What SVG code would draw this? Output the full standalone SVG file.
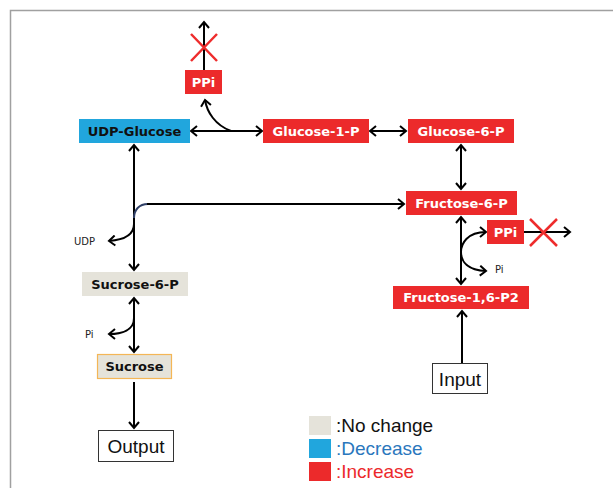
<svg xmlns="http://www.w3.org/2000/svg" width="613" height="488" viewBox="0 0 613 488">
  <defs>
    <style>
      .box-inc { fill: #ec2a2b; }
      .box-dec { fill: #21a6dd; }
      .box-nc { fill: #e5e3da; }
      .lbl { font-family: "DejaVu Sans", Verdana, sans-serif; font-weight: bold; font-size: 13px; text-anchor: middle; }
      .lbl-w { fill: #ffffff; }
      .lbl-k { fill: #111111; }
      .small { font-family: "DejaVu Sans", Verdana, sans-serif; font-size: 10px; fill: #222; }
      .io { font-family: "Liberation Sans", Arial, sans-serif; font-size: 19px; fill: #111; text-anchor: middle; }
      .leg { font-family: "Liberation Sans", Arial, sans-serif; font-size: 19px; }
      .edge { fill: none; stroke: #000; stroke-width: 2; }
      .cross { stroke: #ee2c2c; stroke-width: 2.5; fill: none; }
    </style>
    <marker id="arr" viewBox="-8 -6 10 12" refX="0" refY="0" markerWidth="10" markerHeight="12" markerUnits="userSpaceOnUse" orient="auto-start-reverse">
      <path d="M-6,-5 L0,0 L-6,5" fill="none" stroke="#000" stroke-width="2" stroke-linejoin="miter"/>
    </marker>
  </defs>

  <rect width="613" height="488" fill="#ffffff"/>
  <!-- frame -->
  <path d="M10.5,488 L10.5,10.5 L613,10.5" fill="none" stroke="#a0a0a0" stroke-width="1.5"/>

  <!-- connectors -->
  <g id="connectors">
    <!-- PPi release upward -->
    <line class="edge" x1="204" y1="70" x2="204" y2="22" marker-end="url(#arr)"/>
    <!-- UDP-Glucose <-> Glucose-1-P -->
    <line class="edge" x1="191" y1="131" x2="262" y2="131" marker-start="url(#arr)" marker-end="url(#arr)"/>
    <path class="edge" d="M231,131 C215,125 207,112 205,100" marker-end="url(#arr)"/>
    <!-- Glucose-1-P <-> Glucose-6-P -->
    <line class="edge" x1="370" y1="131" x2="406" y2="131" marker-start="url(#arr)" marker-end="url(#arr)"/>
    <!-- Glucose-6-P <-> Fructose-6-P -->
    <line class="edge" x1="461" y1="145" x2="461" y2="189" marker-start="url(#arr)" marker-end="url(#arr)"/>
    <!-- Fructose-6-P <-> Fructose-1,6-P2 -->
    <line class="edge" x1="461" y1="217" x2="461" y2="284" marker-start="url(#arr)" marker-end="url(#arr)"/>
    <path class="edge" d="M486,232 C467,232 461,244 461,252 C461,262 468,270 486,271" marker-start="url(#arr)" marker-end="url(#arr)"/>
    <!-- PPi release right -->
    <line class="edge" x1="524" y1="232" x2="570" y2="232" marker-end="url(#arr)"/>
    <!-- Input -> Fructose-1,6-P2 -->
    <line class="edge" x1="462" y1="363" x2="462" y2="311" marker-end="url(#arr)"/>
    <!-- UDP-Glucose <-> Sucrose-6-P -->
    <line class="edge" x1="134" y1="145" x2="134" y2="270" marker-start="url(#arr)" marker-end="url(#arr)"/>
    <path d="M134,218 C134,210 139,204 148,204" fill="none" stroke="#2f3f66" stroke-width="2"/>
    <line class="edge" x1="147" y1="204" x2="404" y2="204" marker-end="url(#arr)"/>
    <path class="edge" d="M134,224 C134,236 122,240 109,241" marker-end="url(#arr)"/>
    <!-- Sucrose-6-P <-> Sucrose -->
    <line class="edge" x1="134" y1="298" x2="134" y2="352" marker-start="url(#arr)" marker-end="url(#arr)"/>
    <path class="edge" d="M134,318 C134,330 122,334 109,334" marker-end="url(#arr)"/>
    <!-- Sucrose -> Output -->
    <line class="edge" x1="134" y1="382" x2="134" y2="428" marker-end="url(#arr)"/>
  </g>

  <!-- blocked routes -->
  <g id="block-top">
    <path class="cross" d="M191,34 L217,61 M217,34 L191,61"/>
  </g>
  <g id="block-right">
    <path class="cross" d="M530,219 L557,246 M557,219 L530,246"/>
  </g>

  <!-- nodes -->
  <g id="ppi-top">
    <rect class="box-inc" x="185" y="70" width="37" height="24"/>
    <text class="lbl lbl-w" x="203.5" y="86.5">PPi</text>
  </g>
  <g id="udp-glucose">
    <rect class="box-dec" x="79" y="119" width="111" height="24"/>
    <text class="lbl lbl-k" x="134.5" y="135.5">UDP-Glucose</text>
  </g>
  <g id="glucose-1-p">
    <rect class="box-inc" x="263" y="119" width="106" height="24"/>
    <text class="lbl lbl-w" x="316" y="135.5">Glucose-1-P</text>
  </g>
  <g id="glucose-6-p">
    <rect class="box-inc" x="408" y="119" width="106" height="24"/>
    <text class="lbl lbl-w" x="461" y="135.5">Glucose-6-P</text>
  </g>
  <g id="fructose-6-p">
    <rect class="box-inc" x="406" y="191" width="111" height="24"/>
    <text class="lbl lbl-w" x="461.5" y="207.5">Fructose-6-P</text>
  </g>
  <g id="ppi-right">
    <rect class="box-inc" x="487" y="220" width="37" height="24"/>
    <text class="lbl lbl-w" x="505.5" y="236.5">PPi</text>
  </g>
  <g id="pi-right">
    <text class="small" x="495" y="273">Pi</text>
  </g>
  <g id="fructose-1-6-p2">
    <rect class="box-inc" x="393" y="286" width="136" height="23"/>
    <text class="lbl lbl-w" x="461" y="302">Fructose-1,6-P2</text>
  </g>
  <g id="input">
    <rect x="432.5" y="363.5" width="55" height="30" fill="#fff" stroke="#333" stroke-width="1"/>
    <text class="io" x="460" y="385.5">Input</text>
  </g>
  <g id="udp">
    <text class="small" x="74" y="245">UDP</text>
  </g>
  <g id="sucrose-6-p">
    <rect class="box-nc" x="82" y="272" width="106" height="24"/>
    <text class="lbl lbl-k" x="135" y="288.5">Sucrose-6-P</text>
  </g>
  <g id="pi-left">
    <text class="small" x="85" y="338">Pi</text>
  </g>
  <g id="sucrose">
    <rect class="box-nc" x="97.5" y="354.5" width="74" height="24" stroke="#f4b656" stroke-width="1.2"/>
    <text class="lbl lbl-k" x="134.5" y="371">Sucrose</text>
  </g>
  <g id="output">
    <rect x="98.5" y="430.5" width="75" height="31" fill="#fff" stroke="#333" stroke-width="1"/>
    <text class="io" x="136" y="453">Output</text>
  </g>

  <!-- legend -->
  <g id="legend">
    <rect class="box-nc" x="309" y="416" width="22" height="19"/>
    <text class="leg" x="336" y="432" fill="#111">:No change</text>
    <rect class="box-dec" x="309" y="439" width="22" height="19"/>
    <text class="leg" x="336" y="455" fill="#2a77bd">:Decrease</text>
    <rect class="box-inc" x="309" y="462" width="22" height="19"/>
    <text class="leg" x="336" y="478" fill="#ec2a2b">:Increase</text>
  </g>
</svg>
